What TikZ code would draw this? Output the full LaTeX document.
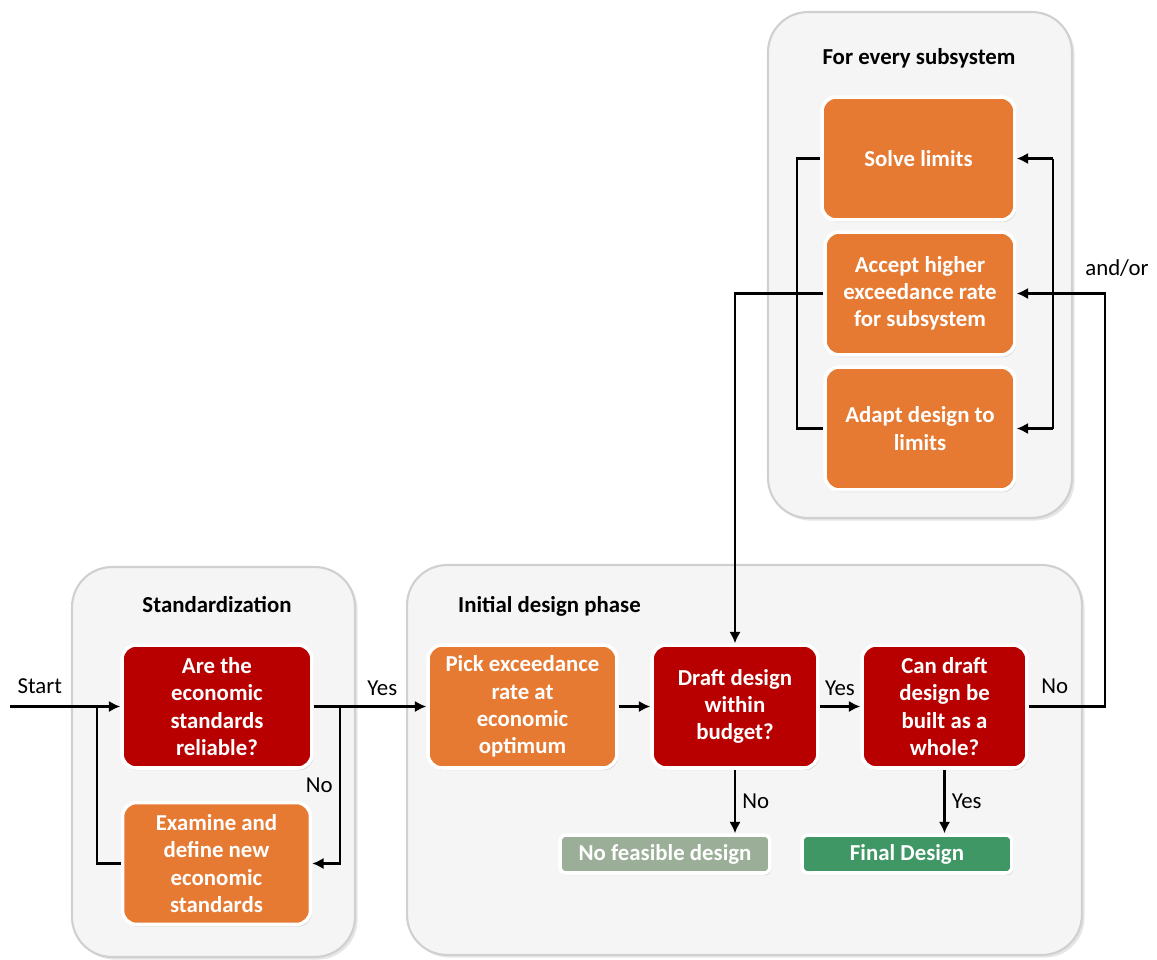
\documentclass[tikz,border=0pt]{standalone}
\usepackage{fontspec}
\setmainfont{Carlito}
\usetikzlibrary{arrows.meta,shadows}

\definecolor{boxred}{HTML}{B80000}
\definecolor{boxorange}{HTML}{E67A32}
\definecolor{boxgrey}{HTML}{9BAF98}
\definecolor{boxgreen}{HTML}{3F9766}
\definecolor{groupfill}{HTML}{F5F5F5}
\definecolor{groupline}{HTML}{D0D0D0}

\tikzset{
	group/.style={draw=groupline, line width=1.2pt, fill=groupfill, rounded corners=0.8cm,
		drop shadow={opacity=0.2, shadow xshift=1.5pt, shadow yshift=-1.5pt}},
	grouptitle/.style={font=\fontsize{13}{15.5}\selectfont\bfseries},
	box/.style={draw=white, line width=2pt, rounded corners=0.28cm, text=white, align=center,
		font=\fontsize{13}{15.5}\selectfont\bfseries, minimum height=2.46cm, inner sep=2pt,
		drop shadow={opacity=0.3, shadow xshift=0.8pt, shadow yshift=-1.2pt}},
	decision/.style={box, fill=boxred},
	action/.style={box, fill=boxorange},
	endbox/.style={box, minimum height=0.76cm, minimum width=4.2cm, rounded corners=0.12cm},
	line/.style={line width=1.6pt},
	arr/.style={line, -{Latex[length=6.5pt,width=6.5pt]}},
	lbl/.style={font=\fontsize{13}{15.5}\selectfont}
}

\begin{document}
\begin{tikzpicture}[x=0.02cm,y=-0.02cm]
	\useasboundingbox (0,0) rectangle (1157,960);

	% groups
	\node[group, minimum width=5.66cm, minimum height=7.8cm] (stdgroup) at (213.5,762) {};
	\node[group, minimum width=13.5cm, minimum height=7.8cm] (initgroup) at (744.5,760) {};
	\node[group, minimum width=6.08cm, minimum height=10.12cm] (subgroup) at (920,265) {};
	\node[grouptitle] (stdtitle) at (217,605) {Standardization};
	\node[grouptitle, anchor=west] (inittitle) at (452,606) {Initial design phase};
	\node[grouptitle] (subtitle) at (919,58) {For every subsystem};

	% standardization
	\node[decision, minimum width=3.8cm] (reliable) at (217,706.5) {Are the\\economic\\standards\\reliable?};
	\node[action, minimum width=3.76cm, minimum height=2.44cm] (examine) at (216.5,863.5) {Examine and\\define new\\economic\\standards};

	% initial design
	\node[action, minimum width=3.78cm] (pick) at (522.5,706.5) {Pick exceedance\\rate at\\economic\\optimum};
	\node[decision, minimum width=3.32cm] (budget) at (735,706.5) {Draft design\\within\\budget?};
	\node[decision, minimum width=3.3cm] (whole) at (944.5,706.5) {Can draft\\design be\\built as a\\whole?};
	\node[endbox, fill=boxgrey] (nofeasible) at (665,854) {No feasible design};
	\node[endbox, fill=boxgreen] (final) at (907,854) {Final Design};

	% subsystems
	\node[action, minimum width=3.86cm] (solve) at (918.5,158.5) {Solve limits};
	\node[action, minimum width=3.8cm] (accept) at (920,293.5) {Accept higher\\exceedance rate\\for subsystem};
	\node[action, minimum width=3.8cm] (adapt) at (920,428.5) {Adapt design to\\limits};

	\coordinate (start) at (10,706.5);
	\coordinate (loopin) at (97,706.5);
	\coordinate (nosplit) at (340,706.5);
	\coordinate (andor) at (1105,293.5);
	\coordinate (lx) at (797,0);
	\coordinate (rx) at (1053,0);

	% connectors
	\draw[arr] (start) -- node[lbl, above, yshift=3pt, pos=0.27] (startlbl) {Start} (reliable.west);
	\draw[line] (examine.west) -| (loopin);
	\draw[arr] (reliable.east) -- node[lbl, above, yshift=2pt, pos=0.61] (yes1) {Yes} (pick.west);
	\draw[arr] (nosplit) |- node[lbl, left, pos=0.25] (no1) {No} (examine.east);
	\draw[arr] (pick.east) -- (budget.west);
	\draw[arr] (budget.east) -- node[lbl, above, yshift=2pt] (yes2) {Yes} (whole.west);
	\draw[arr] (budget.south) -- node[lbl, right] (no2) {No} (budget.south |- nofeasible.north);
	\draw[arr] (whole.south) -- node[lbl, right] (yes3) {Yes} (whole.south |- final.north);
	\draw[arr] (whole.east) -| node[lbl, above, yshift=3pt, pos=0.17] (no3) {No} (andor) -- (accept.east);
	\node[lbl] (andorlbl) at (1117,268) {and/or};

	\draw[line] (rx |- solve.east) -- (rx |- adapt.east);
	\draw[arr] (rx |- solve.east) -- (solve.east);
	\draw[arr] (rx |- adapt.east) -- (adapt.east);
	\draw[line] (solve.west) -| (lx |- adapt.west) -- (adapt.west);
	\draw[arr] (accept.west) -| (budget.north);
\end{tikzpicture}
\end{document}
